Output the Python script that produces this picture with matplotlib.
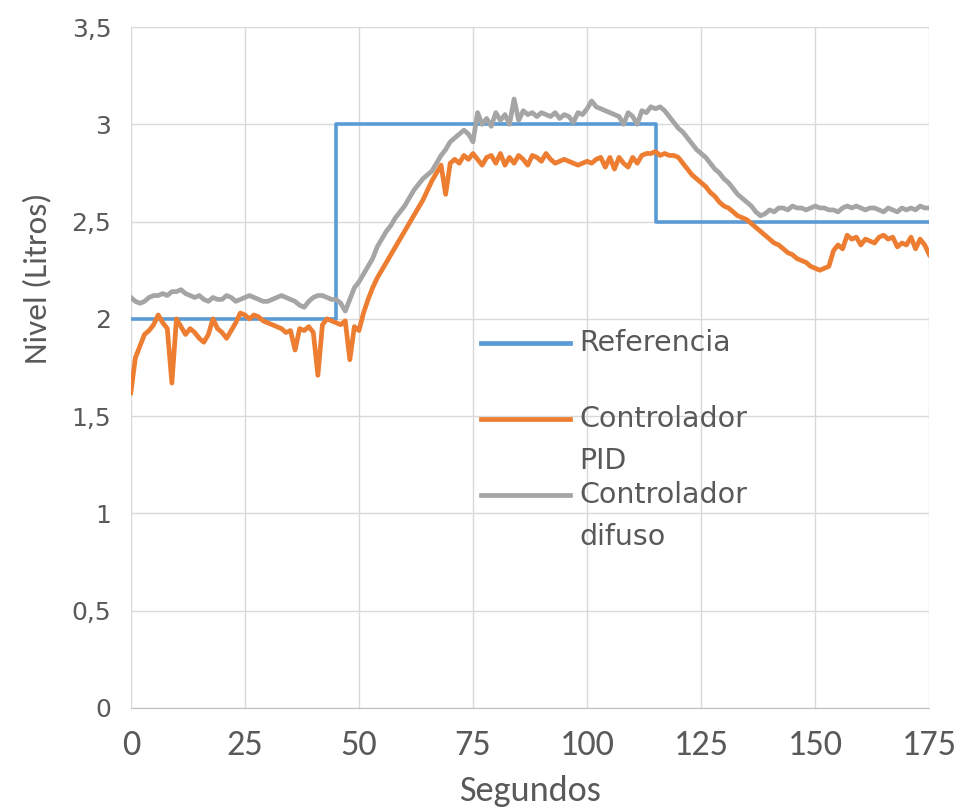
import matplotlib
matplotlib.use('Agg')
import matplotlib.pyplot as plt
import numpy as np

# tiempo en segundos
tiempo = list(range(0, 176))

# referencia (escalones)
ref_t = [0, 45, 115, 175]
ref_v = [2.0, 3.0, 2.5, 2.5]

pid = [1.62, 1.80, 1.86, 1.92, 1.94, 1.97, 2.02, 1.98, 1.95, 1.67,
       2.00, 1.96, 1.92, 1.95, 1.93, 1.90, 1.88, 1.92, 2.00, 1.95,
       1.93, 1.90, 1.94, 1.98, 2.03, 2.02, 2.00, 2.02, 2.01, 1.99,
       1.98, 1.97, 1.96, 1.95, 1.93, 1.94, 1.84, 1.95, 1.94, 1.96,
       1.93, 1.71, 1.97, 2.00, 1.99, 1.98, 1.97, 1.99, 1.79, 1.96,
       1.94, 2.03, 2.10, 2.16, 2.21, 2.25, 2.29, 2.33, 2.37, 2.41,
       2.45, 2.49, 2.53, 2.57, 2.61, 2.66, 2.71, 2.75, 2.79, 2.64,
       2.80, 2.82, 2.80, 2.84, 2.82, 2.85, 2.82, 2.79, 2.83, 2.84,
       2.80, 2.85, 2.79, 2.83, 2.80, 2.84, 2.82, 2.79, 2.84, 2.83,
       2.81, 2.85, 2.82, 2.80, 2.81, 2.82, 2.81, 2.80, 2.79, 2.80,
       2.81, 2.80, 2.82, 2.83, 2.78, 2.83, 2.77, 2.83, 2.80, 2.78,
       2.83, 2.80, 2.84, 2.85, 2.85, 2.86, 2.84, 2.85, 2.84, 2.84,
       2.83, 2.80, 2.77, 2.74, 2.72, 2.70, 2.68, 2.65, 2.63, 2.60,
       2.58, 2.57, 2.55, 2.53, 2.52, 2.51, 2.49, 2.47, 2.45, 2.43,
       2.41, 2.39, 2.38, 2.36, 2.34, 2.33, 2.31, 2.30, 2.29, 2.27,
       2.26, 2.25, 2.26, 2.27, 2.35, 2.38, 2.36, 2.43, 2.41, 2.42,
       2.38, 2.41, 2.40, 2.39, 2.42, 2.43, 2.41, 2.42, 2.37, 2.39,
       2.38, 2.42, 2.36, 2.41, 2.38, 2.33]

difuso = [2.11, 2.09, 2.08, 2.09, 2.11, 2.12, 2.12, 2.13, 2.12, 2.14,
          2.14, 2.15, 2.13, 2.12, 2.11, 2.12, 2.10, 2.09, 2.11, 2.10,
          2.10, 2.12, 2.11, 2.09, 2.10, 2.11, 2.12, 2.11, 2.10, 2.09,
          2.09, 2.10, 2.11, 2.12, 2.11, 2.10, 2.09, 2.07, 2.06, 2.09,
          2.11, 2.12, 2.12, 2.11, 2.10, 2.10, 2.08, 2.04, 2.10, 2.16,
          2.19, 2.23, 2.27, 2.31, 2.37, 2.41, 2.45, 2.48, 2.52, 2.55,
          2.58, 2.62, 2.66, 2.69, 2.72, 2.74, 2.76, 2.80, 2.84, 2.87,
          2.91, 2.93, 2.95, 2.97, 2.95, 2.91, 3.06, 3.00, 3.03, 2.99,
          3.06, 3.02, 3.05, 3.00, 3.13, 3.02, 3.07, 3.05, 3.06, 3.04,
          3.06, 3.05, 3.04, 3.06, 3.03, 3.05, 3.04, 3.01, 3.06, 3.05,
          3.08, 3.12, 3.09, 3.08, 3.07, 3.06, 3.05, 3.04, 3.00, 3.06,
          3.04, 3.00, 3.07, 3.06, 3.09, 3.08, 3.09, 3.07, 3.04, 3.01,
          2.98, 2.96, 2.93, 2.90, 2.87, 2.85, 2.83, 2.80, 2.77, 2.75,
          2.72, 2.70, 2.67, 2.64, 2.62, 2.60, 2.58, 2.55, 2.53, 2.54,
          2.56, 2.55, 2.57, 2.57, 2.56, 2.58, 2.57, 2.57, 2.56, 2.57,
          2.58, 2.57, 2.57, 2.56, 2.56, 2.55, 2.57, 2.58, 2.57, 2.58,
          2.57, 2.56, 2.57, 2.57, 2.56, 2.55, 2.57, 2.56, 2.55, 2.57,
          2.56, 2.57, 2.56, 2.58, 2.57, 2.57]

x_ticks = [0, 25, 50, 75, 100, 125, 150, 175]
y_ticks = [0, 0.5, 1, 1.5, 2, 2.5, 3, 3.5]
y_labels = ['0', '0,5', '1', '1,5', '2', '2,5', '3', '3,5']

azul = '#5B9BD5'
naranja = '#ED7D31'
gris = '#A5A5A5'
texto = '#595959'
narrow = ['Carlito', 'Archivo Narrow', 'DejaVu Sans']

fig = plt.figure(figsize=(9.69, 8.07), dpi=100)
ax = fig.add_axes([0.135, 0.1227, 0.824, 0.8438])

ax.step(ref_t, ref_v, where='post', color=azul, lw=2.6, zorder=3)
ax.plot(tiempo, pid, color=naranja, lw=3.4, zorder=4)
ax.plot(tiempo, difuso, color=gris, lw=3.4, zorder=5)

ax.set_xlim(0, 175)
ax.set_ylim(0, 3.5)
ax.set_xticks(x_ticks)
ax.set_xticklabels([str(v) for v in x_ticks], fontsize=26, color=texto,
                   family=narrow)
ax.set_yticks(y_ticks)
ax.set_yticklabels(y_labels, fontsize=18, color=texto)
ax.tick_params(axis='x', length=0, pad=15)
ax.tick_params(axis='y', length=0, pad=14)
ax.grid(True, color='#D9D9D9', lw=1)
ax.set_axisbelow(True)
for s in ['top', 'right', 'left']:
    ax.spines[s].set_visible(False)
ax.spines['bottom'].set_color('#BFBFBF')

ax.set_xlabel('Segundos', fontsize=26, color=texto, family=narrow, labelpad=10)
ax.set_ylabel('Nivel (Litros)', fontsize=24, color=texto, family=narrow)
ax.yaxis.set_label_coords(-0.10, 0.631)

# leyenda dibujada a mano (la linea va alineada con la primera linea del texto)
leyenda = [(azul, 0.536, ['Referencia']),
           (naranja, 0.424, ['Controlador', 'PID']),
           (gris, 0.313, ['Controlador', 'difuso'])]
for col, yy, lineas in leyenda:
    ax.plot([0.439, 0.55], [yy, yy], color=col, lw=3.4,
            transform=ax.transAxes, zorder=6)
    for i, t in enumerate(lineas):
        ax.text(0.562, yy - i * 0.0617, t, transform=ax.transAxes,
                fontsize=20.5, color=texto, va='center', ha='left', zorder=6)

fig.savefig('out.png', dpi=100)
